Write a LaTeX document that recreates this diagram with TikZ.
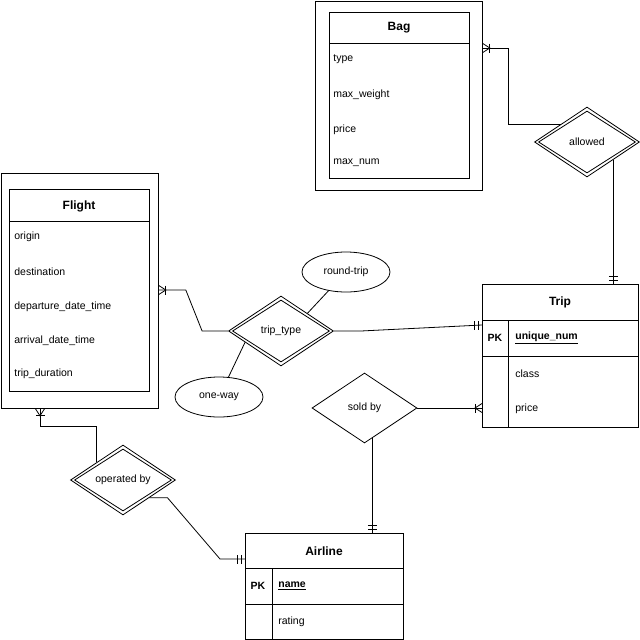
\documentclass[tikz,border=0pt]{standalone}
\usepackage{fontspec}
\setmainfont{Liberation Sans}
\usetikzlibrary{shapes.geometric,calc}
\begin{document}
\begin{tikzpicture}[x=1pt,y=-1pt, line width=0.8pt,
  box/.style={draw, rectangle, anchor=north west, inner sep=0pt},
  ttl/.style={inner sep=0pt, font=\fontsize{12}{14}\selectfont\bfseries},
  attr/.style={anchor=west, inner sep=0pt, font=\fontsize{10.5}{12}\selectfont},
  pkl/.style={inner sep=0pt, font=\fontsize{10.5}{12}\selectfont\bfseries},
  rel/.style={draw, diamond, aspect=1.5, inner sep=0pt, minimum width=105pt, minimum height=70pt, font=\fontsize{10.5}{12}\selectfont},
  relin/.style={draw, diamond, aspect=1.5, inner sep=0pt, minimum width=97pt, minimum height=62pt},
  attrell/.style={draw, ellipse, inner sep=0pt, minimum width=88pt, minimum height=40pt, font=\fontsize{10.5}{12}\selectfont},
  ermany/.pic={\draw (0,-4.5) -- (7,0) -- (0,4.5); \draw (7,-4.5) -- (7,4.5);},
  erone/.pic={\draw (3.5,-4.5) -- (3.5,4.5); \draw (8,-4.5) -- (8,4.5);}
]
\useasboundingbox (0,0) rectangle (640,640);

% ---------- Bag ----------
\node[box, minimum width=167pt, minimum height=189pt] (bag) at (315,0.5) {};
\node[box, minimum width=140pt, minimum height=166pt] (bagin) at (329,12) {};
\draw (329,43) -- (469,43);
\node[ttl] (bagt) at (399,28) {Bag};
\node[attr] (bag1) at (333,59) {type};
\node[attr] (bag2) at (333,95) {max\_weight};
\node[attr] (bag3) at (333,130) {price};
\node[attr] (bag4) at (333,163) {max\_num};

% ---------- Flight ----------
\node[box, minimum width=157.5pt, minimum height=235pt] (flight) at (0.5,173) {};
\node[box, minimum width=140pt, minimum height=202pt] (flin) at (9,189) {};
\draw (9,221) -- (149,221);
\node[ttl] (flt) at (79,206) {Flight};
\node[attr] (fl1) at (14,237) {origin};
\node[attr] (fl2) at (14,272) {destination};
\node[attr] (fl3) at (14,307) {departure\_date\_time};
\node[attr] (fl4) at (14,341) {arrival\_date\_time};
\node[attr] (fl5) at (14,374) {trip\_duration};

% ---------- Trip ----------
\node[box, minimum width=156pt, minimum height=143pt] (trip) at (482,284) {};
\draw (482,320) -- (638,320);
\draw (482,356) -- (638,356);
\draw (508,320) -- (508,427);
\node[ttl] (tript) at (560,302) {Trip};
\node[pkl] (trpk) at (495,338) {PK};
\node[attr, font=\fontsize{10.5}{12}\selectfont\bfseries] (tr1) at (515,338) {\underline{unique\_num}};
\node[attr] (tr2) at (515,374) {class};
\node[attr] (tr3) at (515,409) {price};

% ---------- Airline ----------
\node[box, minimum width=158pt, minimum height=106pt] (airline) at (245,533) {};
\draw (245,568) -- (403,568);
\draw (245,604) -- (403,604);
\draw (272,568) -- (272,639);
\node[ttl] (alt) at (324,551) {Airline};
\node[pkl] (alpk) at (258,586) {PK};
\node[attr, font=\fontsize{10.5}{12}\selectfont\bfseries] (al1) at (278,586) {\underline{name}};
\node[attr] (al2) at (278,622) {rating};

% ---------- relationships ----------
\node[rel] (allowed) at (587,142) {allowed};
\node[relin] (allowedin) at (allowed) {};
\node[rel] (tt) at (281,331) {trip\_type};
\node[relin] (ttin) at (tt) {};
\node[rel] (ob) at (123,480) {operated by};
\node[relin] (obin) at (ob) {};
\node[rel] (sb) at (364.5,408) {sold by};

\node[attrell] (rt) at (346,272) {round-trip};
\node[attrell] (ow) at (219,397) {one-way};

% ---------- connectors ----------
\coordinate (bagR) at ($(bag.north east)+(0,47.5)$);
\draw (allowed.north west) -| ($(bagR)+(26,0)$) -- (bagR);
\pic at (bagR) {ermany};

\draw (allowed.south east) -- (allowed.south east |- trip.north);
\pic[rotate=90] at (allowed.south east |- trip.north) {erone};

\coordinate (flR) at ($(flight.north east)+(0,117)$);
\draw (flR) -- ++(27,0) -- ($(tt.west)+(-26,0)$) -- (tt.west);
\pic at (flR) {ermany};

\coordinate (trL) at ($(trip.north west)+(0,41)$);
\draw (tt.east) -- ++(27,0) -- (trL);
\pic[rotate=180] at (trL) {erone};

\draw (tt.north east) -- (rt);
\draw ($(tt.west)!0.32!(tt.south)$) -- (ow);

\draw (sb.east) -- (sb.east -| trip.west);
\pic[rotate=180] at (sb.east -| trip.west) {ermany};

\coordinate (sbB) at ($(sb.south)!0.15!(sb.east)$);
\draw (sbB) -- (sbB |- airline.north);
\pic[rotate=90] at (sbB |- airline.north) {erone};

\coordinate (flB) at (flight.south -| 40,0);
\draw (flB) -- ++(0,18) -| (ob.north west);
\pic[rotate=270] at (flB) {ermany};

\coordinate (alL) at ($(airline.north west)+(0,26)$);
\draw (ob.south east) -- ++(18,0) -- ($(alL)+(-25,0)$) -- (alL);
\pic[rotate=180] at (alL) {erone};
\end{tikzpicture}
\end{document}
